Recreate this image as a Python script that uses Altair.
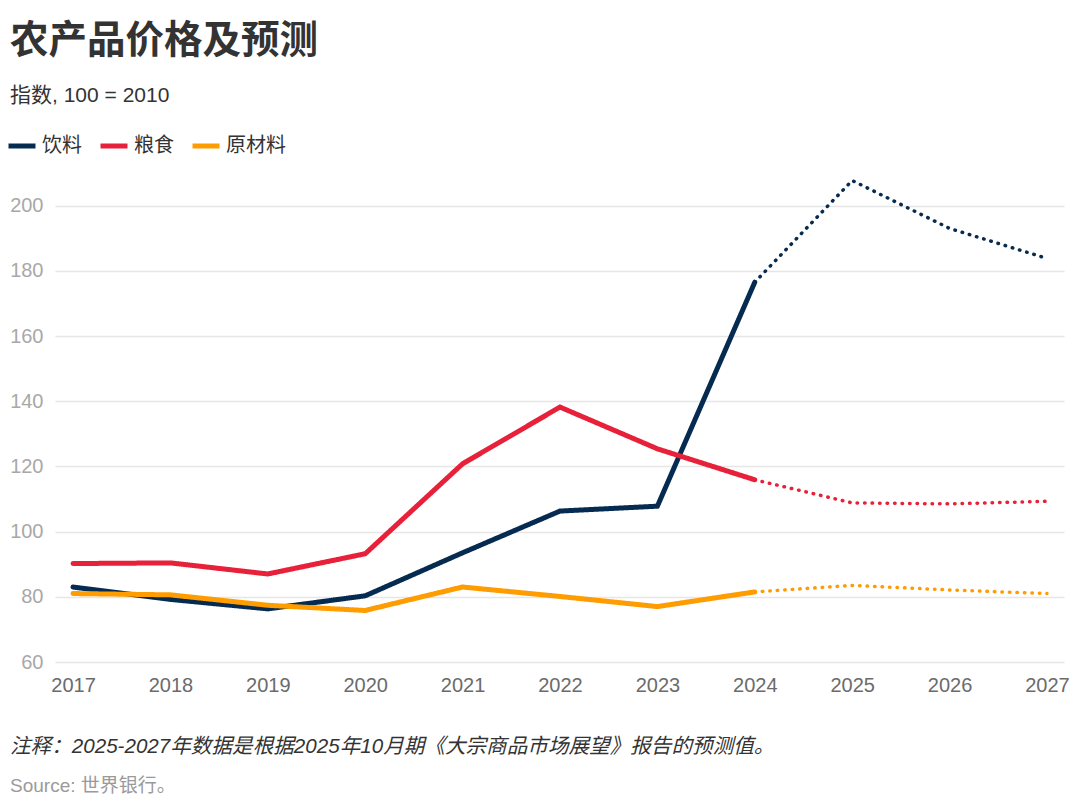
import altair as alt
import pandas as pd

years = [2017, 2018, 2019, 2020, 2021, 2022, 2023, 2024, 2025, 2026, 2027]
beverages = [83.0, 79.2, 76.3, 80.3, 93.5, 106.3, 107.8, 176.5, 207.7, 193.0, 183.8]
food = [90.2, 90.4, 87.0, 93.2, 120.8, 138.2, 125.4, 115.9, 108.8, 108.5, 109.3]
raw = [81.0, 80.6, 77.4, 75.8, 83.0, 80.1, 77.0, 81.5, 83.5, 82.1, 81.0]
series_names = ["饮料", "粮食", "原材料"]
series_colors = ["#062b50", "#e8213a", "#ff9d00"]
last_actual = 2024

title_text = "农产品价格及预测"
subtitle_text = "指数, 100 = 2010"
note_text = "注释：2025-2027年数据是根据2025年10月期《大宗商品市场展望》报告的预测值。"
source_text = "Source: 世界银行。"

rows = []
for name, vals in zip(series_names, [beverages, food, raw]):
    for y, v in zip(years, vals):
        if y <= last_actual:
            rows.append({"series": name, "year": y, "value": v, "seg": "实际"})
        if y >= last_actual:
            rows.append({"series": name, "year": y, "value": v, "seg": "预测"})
df = pd.DataFrame(rows)

FONT = "'Liberation Sans', 'Noto Sans CJK SC', sans-serif"
CJK = "'Noto Sans CJK SC', 'Liberation Sans', sans-serif"

lines = alt.Chart(df).mark_line(strokeCap="round").encode(
    x=alt.X("year:Q",
            scale=alt.Scale(domain=[2016.815, 2027.175], nice=False, zero=False),
            axis=alt.Axis(values=years, format="d", title=None, grid=False,
                          domain=False, ticks=False, labelPadding=13,
                          labelFontSize=20, labelColor="#6b6b6b", labelFont=FONT,
                          labelFlush=False)),
    y=alt.Y("value:Q",
            scale=alt.Scale(domain=[60, 210], nice=False, zero=False),
            axis=alt.Axis(values=[60, 80, 100, 120, 140, 160, 180, 200], title=None,
                          domain=False, ticks=False, labelPadding=12,
                          labelFontSize=20, labelColor="#a8a8a8", labelFont=FONT,
                          gridColor="#e6e6e6", gridWidth=1.5)),
    color=alt.Color("series:N",
                    scale=alt.Scale(domain=series_names, range=series_colors),
                    sort=series_names,
                    legend=alt.Legend(orient="none", legendX=-49, legendY=-43,
                                      direction="horizontal", title=None, padding=0,
                                      symbolType="stroke", symbolSize=729,
                                      symbolStrokeWidth=5, labelFontSize=20,
                                      labelFont=CJK, labelColor="#333333",
                                      labelOffset=4, columnPadding=8)),
    strokeDash=alt.StrokeDash("seg:N",
                              scale=alt.Scale(domain=["实际", "预测"], range=[[1, 0], [0.5, 7]]),
                              legend=None),
    strokeWidth=alt.StrokeWidth("seg:N",
                                scale=alt.Scale(domain=["实际", "预测"], range=[5, 3.5]),
                                legend=None),
    order="year:Q",
)

def label(text, y, size, color, weight="normal", style="normal", font=FONT):
    return alt.Chart(pd.DataFrame({"t": [text]})).mark_text(
        align="left", baseline="middle", fontSize=size, color=color,
        font=font, fontWeight=weight, fontStyle=style,
    ).encode(x=alt.value(-45), y=alt.value(y), text="t:N")

chart = alt.layer(
    lines,
    label(title_text, -132, 38.5, "#333333", weight="bold", font=CJK),
    label(subtitle_text, -77, 21, "#333333"),
    label(note_text, 574, 20.6, "#333333", style="italic"),
    label(source_text, 613, 19, "#9a9a9a"),
).properties(
    width=1009, height=489,
    autosize=alt.AutoSizeParams(type="none"),
    padding={"left": 47, "top": 165, "right": 8, "bottom": 136},
).configure_view(stroke=None)

chart.save("out.html", embed_options={"renderer": "svg", "actions": False})
